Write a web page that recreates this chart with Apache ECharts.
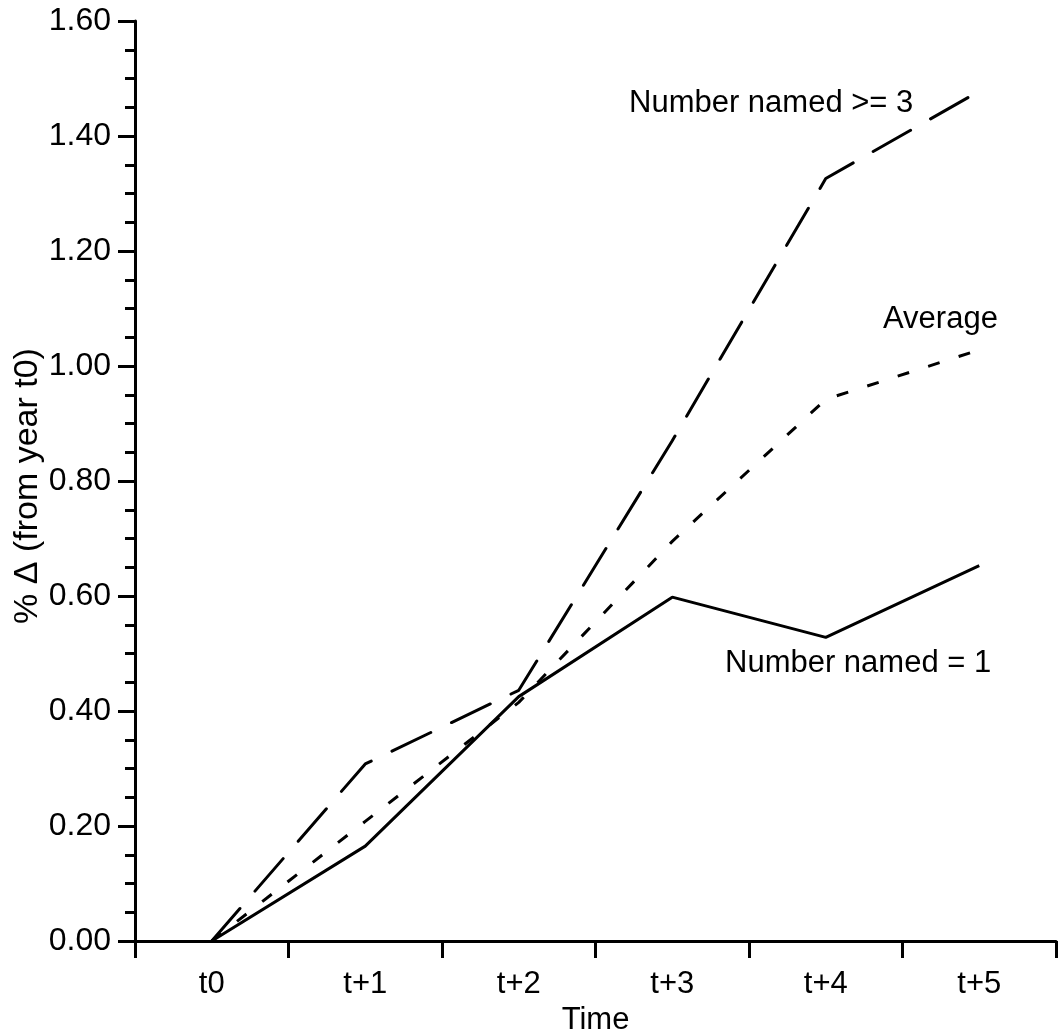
<!DOCTYPE html>
<html>
<head>
<meta charset="utf-8">
<script src="https://cdn.jsdelivr.net/npm/echarts@6/dist/echarts.min.js"></script>
<style>
html,body{margin:0;padding:0;background:#fff;}
#chart{width:1058px;height:1036px;}
</style>
</head>
<body>
<div id="chart"></div>
<script>
const categories = ['t0', 't+1', 't+2', 't+3', 't+4', 't+5'];
const namedOne = [0, 0.165, 0.425, 0.598, 0.528, 0.653];
const namedThreePlus = [0, 0.308, 0.436, 0.87, 1.326, 1.478];
const average = [0, 0.208, 0.415, 0.695, 0.942, 1.028];
const yTicks = { min: 0, max: 1.6, interval: 0.2 };
const seriesLabels = ['Number named = 1', 'Number named >= 3', 'Average'];
const xTitle = 'Time';
const yTitle = '% \u0394 (from year t0)';

const FONT = 'Liberation Sans, Arial, sans-serif';
const chart = echarts.init(document.getElementById('chart'), null, { renderer: 'canvas' });
const axisLine = { show: true, lineStyle: { color: '#000', width: 3 } };

chart.setOption({
  animation: false,
  backgroundColor: '#fff',
  grid: { left: 135, right: 2, top: 21, bottom: 95, containLabel: false, outerBoundsMode: 'none' },
  xAxis: {
    type: 'category',
    data: categories,
    boundaryGap: true,
    name: xTitle,
    nameLocation: 'middle',
    nameGap: 62,
    nameTextStyle: { fontFamily: FONT, fontSize: 31, color: '#000' },
    axisLine: axisLine,
    axisTick: { show: true, length: 17, inside: false, lineStyle: { color: '#000', width: 3 } },
    axisLabel: { fontFamily: FONT, fontSize: 31, color: '#000', margin: 28 },
    splitLine: { show: false }
  },
  yAxis: {
    type: 'value',
    min: yTicks.min,
    max: yTicks.max,
    interval: yTicks.interval,
    axisLine: axisLine,
    axisTick: { show: true, length: 17, lineStyle: { color: '#000', width: 3 } },
    minorTick: { show: true, splitNumber: 4, length: 10, lineStyle: { color: '#000', width: 3 } },
    axisLabel: { fontFamily: FONT, fontSize: 32, color: '#000', margin: 24,
      formatter: v => v.toFixed(2) },
    splitLine: { show: false }
  },
  series: [
    { name: seriesLabels[0], type: 'line', data: namedOne, symbol: 'none',
      lineStyle: { color: '#000', width: 3, type: 'solid' } },
    { name: seriesLabels[1], type: 'line', data: namedThreePlus, symbol: 'none',
      lineStyle: { color: '#000', width: 3, type: [43, 23], cap: 'round' } },
    { name: seriesLabels[2], type: 'line', data: average, symbol: 'none',
      lineStyle: { color: '#000', width: 3, type: [12, 20] } }
  ],
  graphic: [
    { type: 'text', left: 629, top: 88, style: { text: seriesLabels[1], font: '31px ' + FONT, fill: '#000' } },
    { type: 'text', left: 883, top: 304, style: { text: seriesLabels[2], font: '31px ' + FONT, fill: '#000' } },
    { type: 'text', left: 725, top: 648, style: { text: seriesLabels[0], font: '31px ' + FONT, fill: '#000' } },
    { type: 'text', x: 28, y: 486, rotation: Math.PI / 2,
      style: { text: yTitle, x: 0, y: 0, font: '34px ' + FONT, fill: '#000', align: 'center', verticalAlign: 'middle' } }
  ]
});
</script>
</body>
</html>
